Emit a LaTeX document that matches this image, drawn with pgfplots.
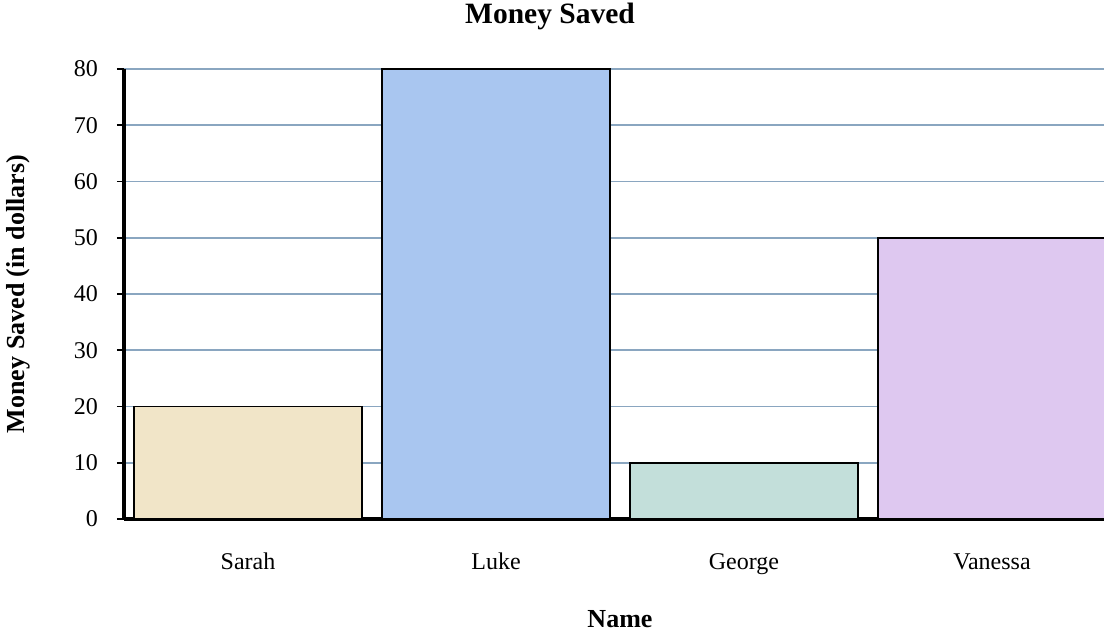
\documentclass[border=0pt]{standalone}
\usepackage{pgfplots}
\pgfplotsset{compat=1.18}
\usepackage{fontspec}
\setmainfont{Liberation Serif}
\definecolor{cSarah}{HTML}{F1E5C8}
\definecolor{cLuke}{HTML}{A9C6F0}
\definecolor{cGeorge}{HTML}{C3DFDA}
\definecolor{cVanessa}{HTML}{DEC8F0}
\definecolor{gridcol}{HTML}{8AA6C0}
\begin{document}
\begin{tikzpicture}
\begin{axis}[
  at={(0pt,0pt)}, anchor=south west,
  scale only axis,
  width=980pt, height=450pt,
  xmin=-0.5, xmax=3.4516,
  ymin=0, ymax=80,
  ytick={0,10,...,80},
  xtick={0,1,2,3},
  xticklabels={Sarah,Luke,George,Vanessa},
  axis x line*=bottom,
  axis y line*=left,
  axis line style={line width=3.5pt, black, -},
  ymajorgrids,
  grid style={color=gridcol, line width=1.8pt},
  tick align=outside,
  major tick length=7pt,
  ytick style={line width=1.6pt, black},
  xtick style={draw=none},
  /pgf/number format/assume math mode=true,
  tick label style={font=\fontsize{24}{28}\selectfont},
  yticklabel style={anchor=east, inner sep=0pt, xshift=-19pt},
  xticklabel style={anchor=base, inner sep=0pt, yshift=-43pt},
  ybar, bar shift=0pt, bar width=0.919,
  title={\textbf{Money Saved}},
  title style={font=\fontsize{29.5}{33}\selectfont, at={(axis description cs:0.4347,1.0867)}, anchor=base, inner sep=0pt},
  xlabel={\textbf{Name}},
  xlabel style={font=\fontsize{26}{30}\selectfont, at={(axis description cs:0.5061,-0.2422)}, anchor=base, inner sep=0pt},
  ylabel={\textbf{Money Saved (in dollars)}},
  ylabel style={font=\fontsize{26}{30}\selectfont, at={(axis description cs:-0.1082,0.5)}, anchor=center, rotate=0, inner sep=0pt},
]
\addplot[fill=cSarah, draw=black, line width=1.8pt] coordinates {(0,20)};
\addplot[fill=cLuke, draw=black, line width=1.8pt] coordinates {(1,80)};
\addplot[fill=cGeorge, draw=black, line width=1.8pt] coordinates {(2,10)};
\addplot[fill=cVanessa, draw=black, line width=1.8pt] coordinates {(3,50)};
\end{axis}
\pgfresetboundingbox
\path[use as bounding box] (-124pt,-116pt) rectangle (980pt,519pt);
\end{tikzpicture}
\end{document}
